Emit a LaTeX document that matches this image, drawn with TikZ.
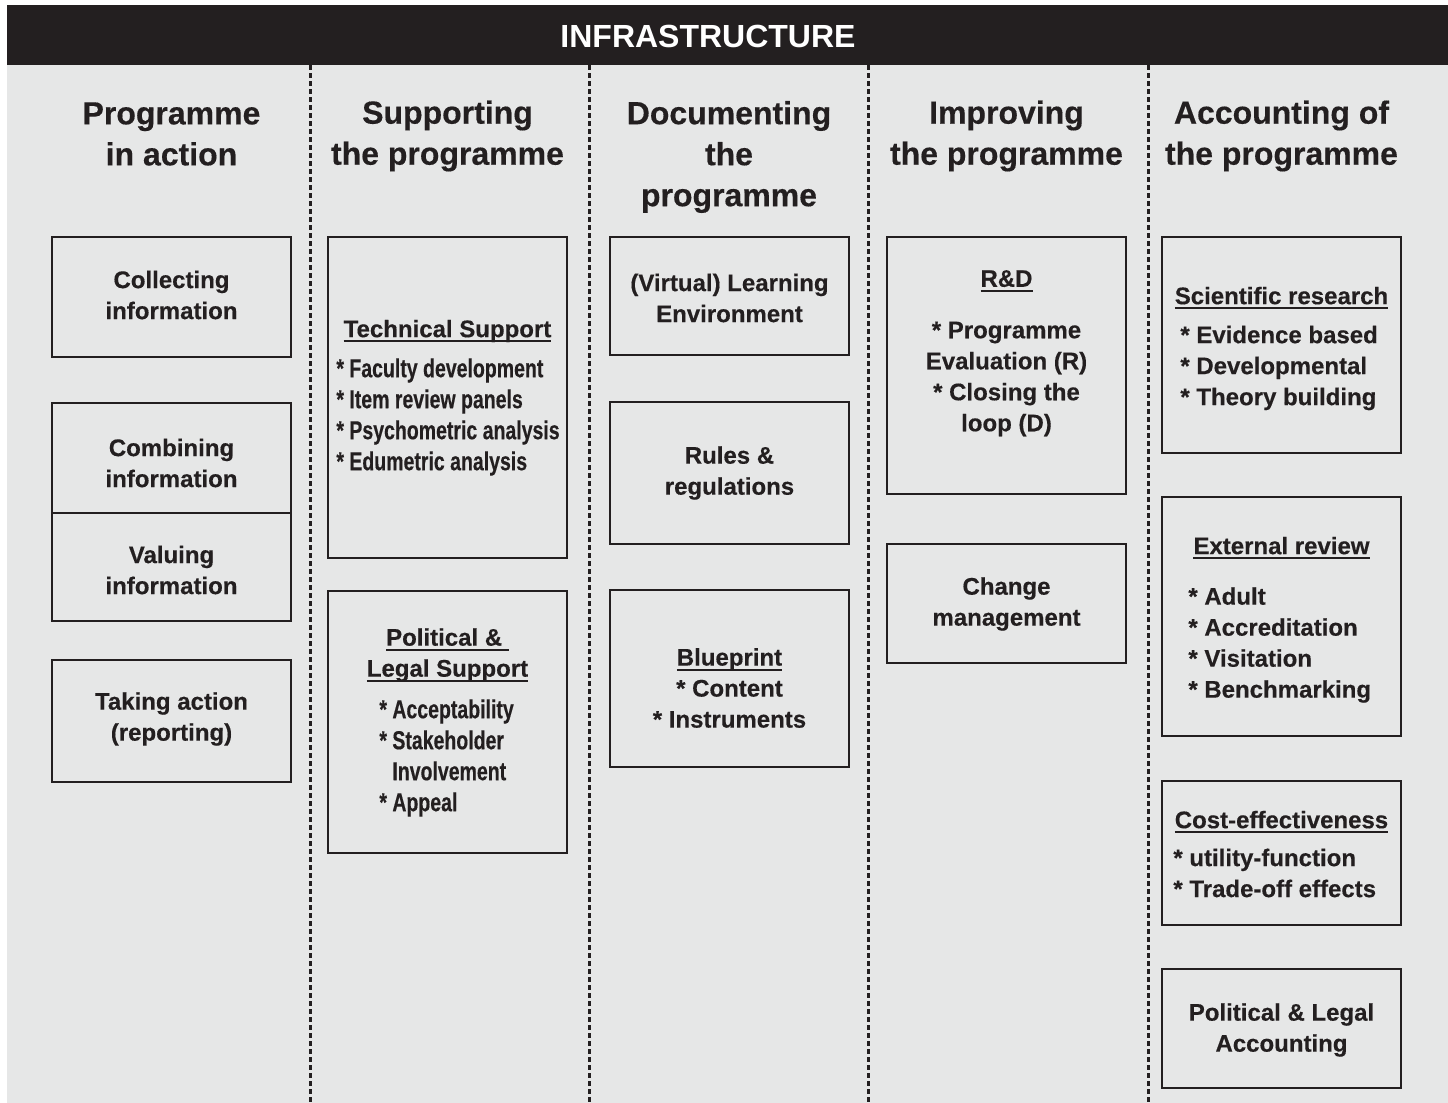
\documentclass[tikz,border=0pt]{standalone}
\usepackage{fontspec}
\setmainfont{Liberation Sans}[BoldFeatures={FakeBold=0.35}]
\newfontfamily\narrowfont{Liberation Sans}[FakeStretch=0.75,BoldFeatures={FakeBold=0.35}]
\newfontfamily\bannerfont{Liberation Sans}
\definecolor{ink}{HTML}{231F20}
\definecolor{panel}{HTML}{E6E7E7}
% underline drawn just below the baseline, crossing the descenders
\newcommand\ulbar[1]{\setbox0\hbox{#1}\rlap{\vrule height -1.6pt depth 2.5pt width \wd0}\box0}

\begin{document}
\begin{tikzpicture}[x=0.5pt,y=-0.5pt,
  frame/.style={draw=ink,line width=1.3pt},
  divider/.style={draw=ink,line width=1.5pt,dash pattern=on 2.5pt off 1.5pt},
  colhead/.style={font=\fontsize{16}{20.5}\selectfont\bfseries,align=center,text=ink,inner sep=0pt},
  boxtext/.style={font=\fontsize{12}{15.5}\selectfont\bfseries,align=center,text=ink,inner sep=0pt},
  itemlist/.style={boxtext,align=left,anchor=west},
  narrowlist/.style={itemlist,font=\fontsize{13}{15.5}\selectfont\narrowfont\bfseries}
]
\useasboundingbox (0,0) rectangle (1448,1103);

% banner and panel
\fill[ink] (7,5) rectangle (1448,65);
\fill[panel] (7,65) rectangle (1448,1103);
\node[font=\fontsize{16}{20}\selectfont\bannerfont\bfseries,text=white,inner sep=0pt] (infra) at (708,36) {INFRASTRUCTURE};

% column separators
\foreach \x in {310,589,868,1148}
  \draw[divider] (\x,65) -- (\x,1103);

% column headings
\node[colhead] (h1) at (171.5,134) {Programme\\in action};
\node[colhead] (h2) at (447.5,136) {Supporting\\the programme};
\node[colhead] (h3) at (729,157) {Documenting\\the\\programme};
\node[colhead] (h4) at (1006.5,136) {Improving\\the programme};
\node[colhead] (h5) at (1281.5,136) {Accounting of\\the programme};

% column 1: programme in action
\draw[frame] (52,237) rectangle (291,357);
\node[boxtext] (collect) at (171.5,295) {Collecting\\information};
\draw[frame] (52,403) rectangle (291,621);
\draw[frame] (52,513) -- (291,513);
\node[boxtext] (combine) at (171.5,463) {Combining\\information};
\node[boxtext] (value) at (171.5,570) {Valuing\\information};
\draw[frame] (52,660) rectangle (291,782);
\node[boxtext] (action) at (171.5,719) {Taking action\\(reporting)};

% column 2: supporting the programme
\draw[frame] (328,237) rectangle (567,558);
\node[boxtext] (tech) at (447.5,331) {\ulbar{Technical Support}};
\node[narrowlist] (techitems) at (336,417) {*~Faculty development\\*~Item review panels\\*~Psychometric analysis\\*~Edumetric analysis};
\draw[frame] (328,591) rectangle (567,853);
\node[boxtext] (polsup) at (447.5,655) {\ulbar{Political \&\ }\\\ulbar{Legal Support}};
\node[narrowlist] (politems) at (379,758) {*~Acceptability\\*~Stakeholder\\\phantom{*~}Involvement\\*~Appeal};

% column 3: documenting the programme
\draw[frame] (610,237) rectangle (849,355);
\node[boxtext] (vle) at (729.5,298) {(Virtual) Learning\\Environment};
\draw[frame] (610,402) rectangle (849,544);
\node[boxtext] (rules) at (729.5,473) {Rules \&\\regulations};
\draw[frame] (610,590) rectangle (849,767);
\node[boxtext] (blue) at (729.5,688) {\ulbar{Blueprint}\\* Content\\* Instruments};

% column 4: improving the programme
\draw[frame] (887,237) rectangle (1126,494);
\node[boxtext] (rd) at (1006.5,281) {\ulbar{R\&D}};
\node[boxtext] (rditems) at (1006.5,379) {* Programme\\Evaluation (R)\\* Closing the\\loop (D)};
\draw[frame] (887,544) rectangle (1126,663);
\node[boxtext] (change) at (1006.5,604) {Change\\management};

% column 5: accounting of the programme
\draw[frame] (1162,237) rectangle (1401,453);
\node[boxtext] (sci) at (1281.5,298) {\ulbar{Scientific research}};
\node[itemlist] (sciitems) at (1180,368) {* Evidence based\\* Developmental\\* Theory building};
\draw[frame] (1162,497) rectangle (1401,736);
\node[boxtext] (ext) at (1281.5,548) {\ulbar{External review}};
\node[itemlist] (extitems) at (1188,645) {* Adult\\* Accreditation\\* Visitation\\* Benchmarking};
\draw[frame] (1162,781) rectangle (1401,925);
\node[boxtext] (cost) at (1281.5,822) {\ulbar{Cost-effectiveness}};
\node[itemlist] (costitems) at (1173,873) {* utility-function\\* Trade-off effects};
\draw[frame] (1162,969) rectangle (1401,1088);
\node[boxtext] (polacc) at (1281.5,1030) {Political \& Legal\\Accounting};
\end{tikzpicture}
\end{document}
